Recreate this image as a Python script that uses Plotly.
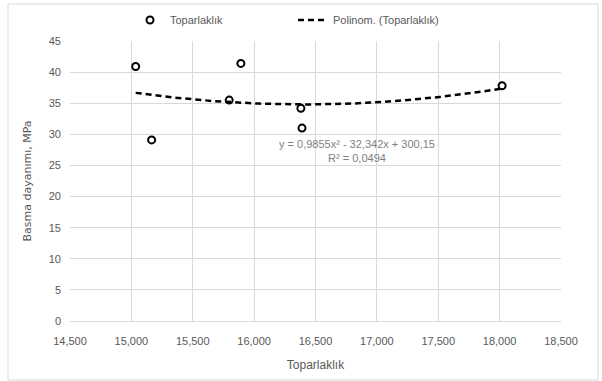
import numpy as np
import plotly.graph_objects as go

# Measured points: roundness (Toparlaklık) vs compressive strength (MPa)
toparlaklik = [15.035, 15.165, 15.797, 15.892, 16.381, 16.390, 18.020]
basma_dayanimi = [40.9, 29.1, 35.5, 41.4, 34.2, 31.0, 37.8]

# Second-order polynomial trend line coefficients (a*x^2 + b*x + c)
poly_coef = [0.9855, -32.342, 300.15]
r_squared = "0,0494"

x_ticks = [14.5, 15.0, 15.5, 16.0, 16.5, 17.0, 17.5, 18.0, 18.5]
y_ticks = [0, 5, 10, 15, 20, 25, 30, 35, 40, 45]

narrow = "Liberation Sans Narrow, Arial Narrow, sans-serif"
grey = "#595959"

xs = np.linspace(min(toparlaklik), max(toparlaklik), 200)
ys = np.polyval(poly_coef, xs)

fig = go.Figure()
fig.add_trace(go.Scatter(
    x=toparlaklik, y=basma_dayanimi, mode="markers", name="Toparlaklık",
    marker=dict(symbol="circle-open", size=7, color="black", line=dict(width=2)),
))
fig.add_trace(go.Scatter(
    x=xs, y=ys, mode="lines", name="Polinom. (Toparlaklık)",
    line=dict(color="black", width=2.5, dash="6px,4px"),
))

eq = "y = 0,9855x² - 32,342x + 300,15<br>R² = " + r_squared
fig.add_annotation(
    x=16.84, y=27.4, xref="x", yref="y", text=eq, showarrow=False,
    font=dict(family=narrow, size=11, color="#7f7f7f"), align="center",
)

# Outer chart border
fig.add_shape(type="rect", xref="paper", yref="paper",
              x0=-62 / 491, x1=528 / 491, y0=-59 / 280, y1=317 / 280,
              line=dict(color="#d9d9d9", width=1))

fig.update_layout(
    width=602, height=381,
    margin=dict(l=70, r=41, t=41, b=60, autoexpand=False),
    paper_bgcolor="white", plot_bgcolor="white",
    separators=",.",
    font=dict(family=narrow, size=11, color=grey),
    showlegend=True,
    legend=dict(orientation="h", x=(130 - 70) / 491, xanchor="left",
                y=(321 - 20) / 280, yanchor="middle",
                font=dict(family=narrow, size=11, color=grey),
                itemwidth=30, entrywidth=118, bgcolor="rgba(0,0,0,0)"),
)
fig.update_xaxes(
    range=[14.5, 18.5], tickvals=x_ticks, tickformat=".3f",
    showgrid=True, gridcolor="#d9d9d9", gridwidth=1,
    showline=True, linecolor="#d9d9d9", mirror=False, zeroline=False,
    ticks="", ticklabelstandoff=10,
    title=dict(text="Toparlaklık", font=dict(family=narrow, size=12, color=grey), standoff=14),
)
fig.update_yaxes(
    range=[0, 45], tickvals=y_ticks,
    showgrid=True, gridcolor="#d9d9d9", gridwidth=1,
    showline=False, zeroline=False, ticks="", ticklabelstandoff=8,
    title=dict(text="Basma dayanımı, MPa", font=dict(family="DejaVu Sans, sans-serif", size=11, color=grey), standoff=14),
)

fig.write_html("out.html")
